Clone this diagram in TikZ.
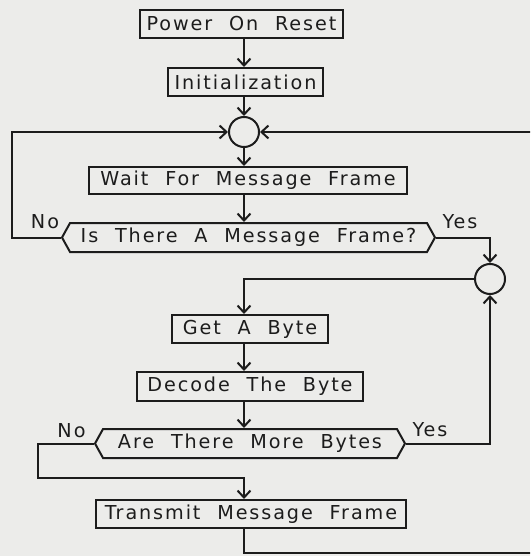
\documentclass[tikz,border=0pt]{standalone}
\usepackage{fontspec}
\newfontfamily\cadfont[LetterSpace=9.9,WordSpace=2.1]{DejaVu Sans}
\usetikzlibrary{arrows.meta,shapes.symbols}
\definecolor{paper}{RGB}{236,236,234}
\definecolor{ink}{RGB}{28,28,28}
\begin{document}
\begin{tikzpicture}[x=1pt,y=-1pt,
  every node/.style={font=\cadfont\fontsize{19.2}{23}\selectfont, text=ink},
  procbox/.style={draw=ink, line width=2pt, rectangle, inner sep=0pt},
  decbox/.style={draw=ink, line width=2pt, signal, signal to=west and east, signal pointer angle=122, inner sep=0pt},
  joinpt/.style={draw=ink, line width=2pt, circle, minimum size=30pt, inner sep=0pt},
  lbl/.style={inner sep=0pt},
  flow/.style={draw=ink, line width=2pt},
  arr/.style={flow, -{Straight Barb[length=7pt,width=13pt]}}]
\useasboundingbox (0,0) rectangle (530,556);
\fill[paper] (0,0) rectangle (530,556);
\clip (0,0) rectangle (530,556);
% nodes
\node[procbox, minimum width=203pt, minimum height=28pt] (por) at (241.5,24) {Power On Reset};
\node[procbox, minimum width=155pt, minimum height=28pt] (init) at (245.5,82) {Initialization};
\node[joinpt] (c1) at (244,132) {};
\node[procbox, minimum width=318pt, minimum height=27pt] (wait) at (248,180.5) {Wait For Message Frame};
\node[decbox, minimum width=373pt, minimum height=29pt] (d1) at (248.5,237.5) {Is There A Message Frame?};
\node[joinpt] (c2) at (490,279) {};
\node[procbox, minimum width=156pt, minimum height=28pt] (get) at (250,329) {Get A Byte};
\node[procbox, minimum width=226pt, minimum height=29pt] (dec) at (250,386.5) {Decode The Byte};
\node[decbox, minimum width=310pt, minimum height=29pt] (d2) at (250,443.5) {Are There More Bytes};
\node[procbox, minimum width=310pt, minimum height=28pt] (tx) at (251,514) {Transmit Message Frame};
\node[lbl] (no1) at (45,222) {No};
\node[lbl] (yes1) at (460,222) {Yes};
\node[lbl] (no2) at (71.5,431) {No};
\node[lbl] (yes2) at (430,430) {Yes};
% helper coordinates
\coordinate (l1) at (12,0);
\coordinate (l2) at (38,0);
\coordinate (r1) at (545,0);
\coordinate (j1) at (0,478);
\coordinate (b1) at (0,553);
% connectors
\draw[arr] (c1 |- por.south) -- (c1 |- init.north);
\draw[arr] (c1 |- init.south) -- (c1.north);
\draw[arr] (c1.south) -- (c1 |- wait.north);
\draw[arr] (c1 |- wait.south) -- (c1 |- d1.north);
\draw[arr] (d1.west) -- (l1 |- d1.west) -- (l1 |- c1) -- (c1.west);
\draw[arr] (d1.east) -- (c2 |- d1.east) -- (c2.north);
\draw[arr] (c2.west) -- (c1 |- c2) -- (c1 |- get.north);
\draw[arr] (c1 |- get.south) -- (c1 |- dec.north);
\draw[arr] (c1 |- dec.south) -- (c1 |- d2.north);
\draw[arr] (d2.east) -- (c2 |- d2.east) -- (c2.south);
\draw[arr] (d2.west) -- (l2 |- d2.west) -- (l2 |- j1) -- (c1 |- j1) -- (c1 |- tx.north);
\draw[arr] (c1 |- tx.south) -- (c1 |- b1) -- (r1 |- b1) -- (r1 |- c1) -- (c1.east);
\end{tikzpicture}
\end{document}
